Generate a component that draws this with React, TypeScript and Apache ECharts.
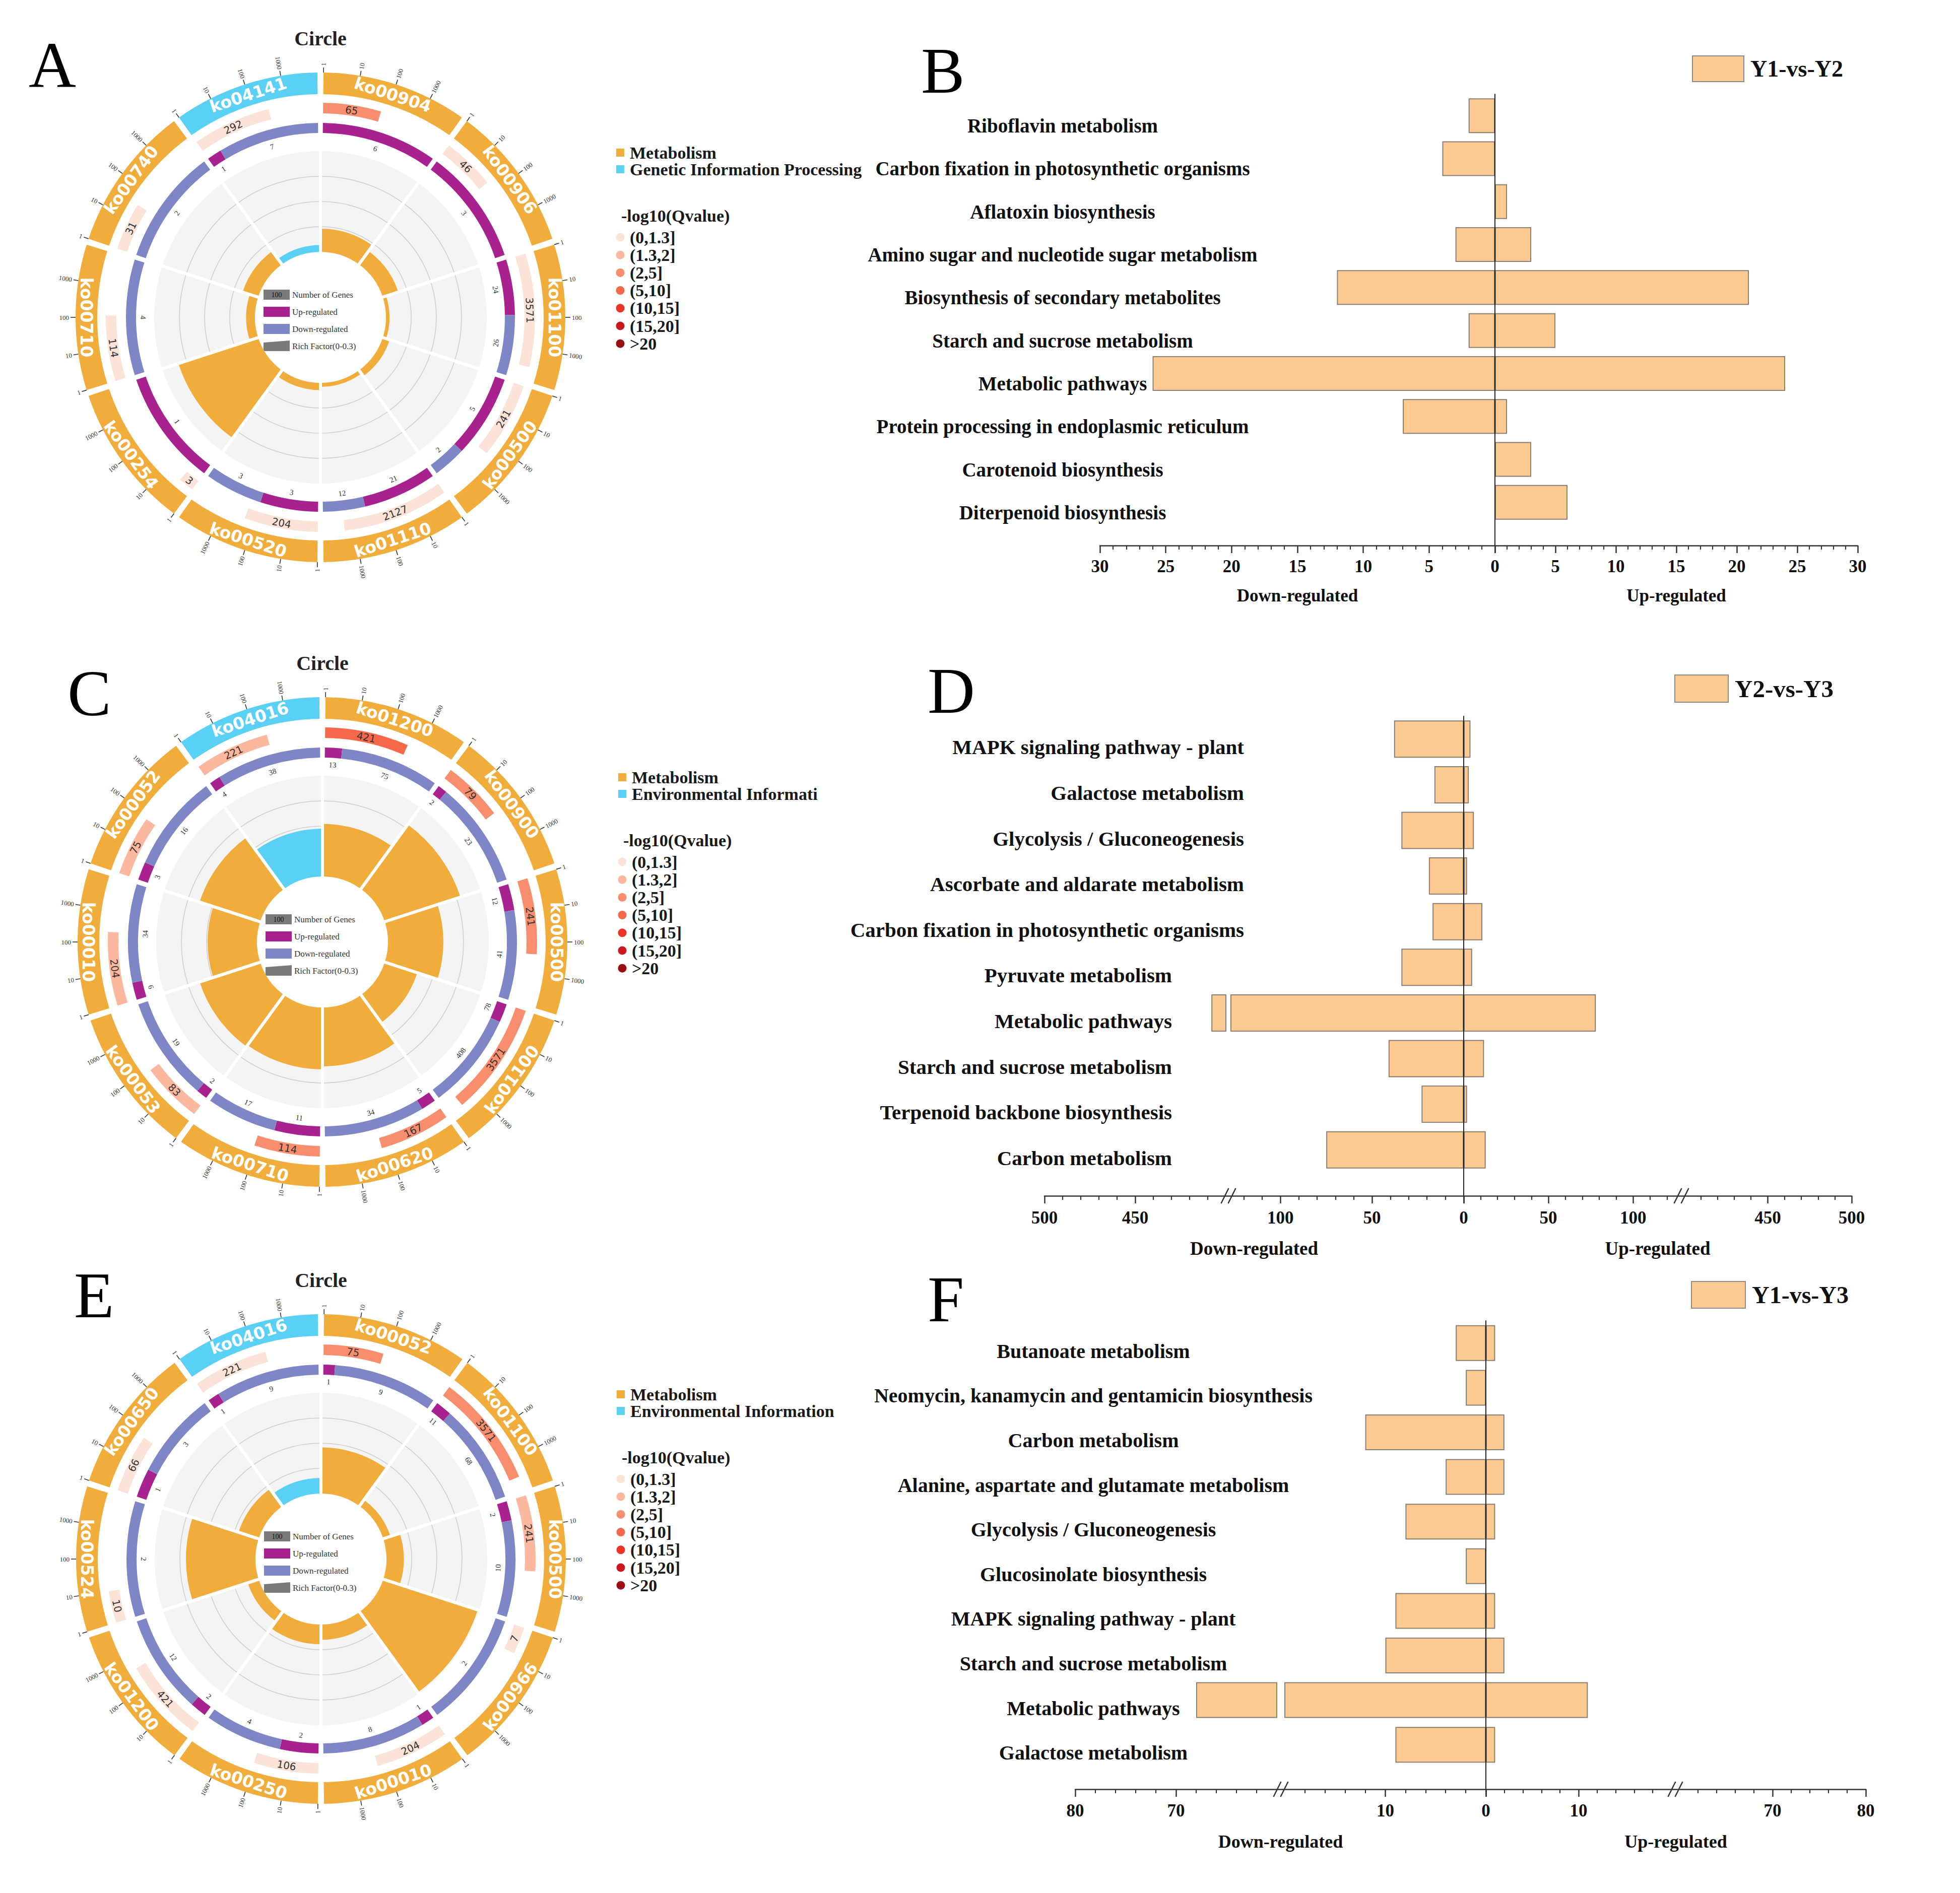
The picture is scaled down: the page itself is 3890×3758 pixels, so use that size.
import React, { useEffect, useRef } from 'react';
import * as echarts from 'echarts';

const PAGE_W = 3890;
const PAGE_H = 3758;
const SERIF = "'Liberation Serif', 'Times New Roman', serif";
const SANS = "'DejaVu Sans', 'Noto Sans', sans-serif";

// ================= DATA: circle plots =================
const A_IDS = ['ko00904', 'ko00906', 'ko01100', 'ko00500', 'ko01110', 'ko00520', 'ko00254', 'ko00710', 'ko00740', 'ko04141'];
const A_CLASS = [0, 0, 0, 0, 0, 0, 0, 0, 0, 1];
const A_GENES = [65, 46, 3571, 241, 2127, 204, 3, 114, 31, 292];
const A_UP = [6, 3, 24, 5, 21, 3, 1, 0, 0, 1];
const A_DOWN = [0, 0, 26, 2, 12, 3, 0, 4, 2, 7];
const A_QLEVEL = [2, 0, 0, 0, 0, 0, 0, 0, 0, 0];
const A_RICH = [0.092, 0.065, 0.014, 0.029, 0.016, 0.029, 0.333, 0.035, 0.065, 0.027];
const A_CLASS_NAMES = ['Metabolism', 'Genetic Information Processing'];

const C_IDS = ['ko01200', 'ko00900', 'ko00500', 'ko01100', 'ko00620', 'ko00710', 'ko00053', 'ko00010', 'ko00052', 'ko04016'];
const C_CLASS = [0, 0, 0, 0, 0, 0, 0, 0, 0, 1];
const C_GENES = [421, 79, 241, 3571, 167, 114, 83, 204, 75, 221];
const C_UP = [13, 2, 12, 78, 5, 11, 2, 6, 3, 4];
const C_DOWN = [75, 23, 41, 408, 34, 17, 19, 34, 16, 38];
const C_QLEVEL = [3, 2, 2, 2, 2, 2, 1, 1, 1, 1];
const C_RICH = [0.209, 0.316, 0.22, 0.136, 0.234, 0.246, 0.253, 0.196, 0.253, 0.19];
const C_CLASS_NAMES = ['Metabolism', 'Environmental Informati'];

const E_IDS = ['ko00052', 'ko01100', 'ko00500', 'ko00966', 'ko00010', 'ko00250', 'ko01200', 'ko00524', 'ko00650', 'ko04016'];
const E_CLASS = [0, 0, 0, 0, 0, 0, 0, 0, 0, 1];
const E_GENES = [75, 3571, 241, 7, 204, 106, 421, 10, 66, 221];
const E_UP = [1, 11, 2, 0, 1, 2, 2, 0, 1, 1];
const E_DOWN = [9, 68, 10, 2, 8, 4, 12, 2, 3, 9];
const E_QLEVEL = [2, 2, 1, 0, 0, 0, 0, 0, 0, 0];
const E_RICH = [0.133, 0.022, 0.05, 0.286, 0.044, 0.057, 0.033, 0.2, 0.061, 0.045];
const E_CLASS_NAMES = ['Metabolism', 'Environmental Information'];

const Q_LABELS = ['(0,1.3]', '(1.3,2]', '(2,5]', '(5,10]', '(10,15]', '(15,20]', '>20'];
const GENE_TICK_LABELS = ['1', '10', '100', '1000'];
const GENE_DECADES = 4;
const CENTER_LEGEND = ['Number of Genes', 'Up-regulated', 'Down-regulated', 'Rich Factor(0-0.3)'];

// ================= DATA: bar charts =================
const B_PATHWAYS = ['Riboflavin metabolism', 'Carbon fixation in photosynthetic organisms', 'Aflatoxin biosynthesis', 'Amino sugar and nucleotide sugar metabolism', 'Biosynthesis of secondary metabolites', 'Starch and sucrose metabolism', 'Metabolic pathways', 'Protein processing in endoplasmic reticulum', 'Carotenoid biosynthesis', 'Diterpenoid biosynthesis'];
const B_DOWN = [2, 4, 0, 3, 12, 2, 26, 7, 0, 0];
const B_UP = [0, 0, 1, 3, 21, 5, 24, 1, 3, 6];

const D_PATHWAYS = ['MAPK signaling pathway - plant', 'Galactose metabolism', 'Glycolysis / Gluconeogenesis', 'Ascorbate and aldarate metabolism', 'Carbon fixation in photosynthetic organisms', 'Pyruvate metabolism', 'Metabolic pathways', 'Starch and sucrose metabolism', 'Terpenoid backbone biosynthesis', 'Carbon metabolism'];
const D_DOWN = [38, 16, 34, 19, 17, 34, 408, 41, 23, 75];
const D_UP = [4, 3, 6, 2, 11, 5, 78, 12, 2, 13];

const F_PATHWAYS = ['Butanoate metabolism', 'Neomycin, kanamycin and gentamicin biosynthesis', 'Carbon metabolism', 'Alanine, aspartate and glutamate metabolism', 'Glycolysis / Gluconeogenesis', 'Glucosinolate biosynthesis', 'MAPK signaling pathway - plant', 'Starch and sucrose metabolism', 'Metabolic pathways', 'Galactose metabolism'];
const F_DOWN = [3, 2, 12, 4, 8, 2, 9, 10, 68, 9];
const F_UP = [1, 0, 2, 2, 1, 0, 1, 2, 11, 1];

// ================= STYLE =================
const CLASS_COLORS = ['#F0AD3B', '#5BD0F5'];
const Q_COLORS = ['#FCE3D8', '#FBB89E', '#F98E6E', '#F5694A', '#EC3426', '#C9181F', '#990E13'];
const UP_COLOR = '#A8228F';
const DOWN_COLOR = '#7E86C6';
const GRAY_BG = '#F4F4F4';
const GRID_LINE = '#CFCFCF';
const BAR_FILL = '#FDCB91';
const BAR_EDGE = '#8A7E70';
const AXIS_COLOR = '#333';

// circle geometry (px)
const R_OUT = 488;
const RING1 = [443, 486];
const RING2 = [405, 426];
const RING3 = [366, 386];
const RING3_LABEL = 352;
const TICK_R = [486, 496];
const TICK_LABEL_R = 499;
const R_IN = 130;
const R_GRAY = 330;
const SEG_PAD = 0.02;

const CIRCLE_LAYOUT = [
  { cx: 636, cy: 630, rfMax: 0.4, letter: 'A', lx: 57, ly: 129 },
  { cx: 640, cy: 1870, rfMax: 0.4, letter: 'C', lx: 134, ly: 1376 },
  { cx: 637, cy: 3095, rfMax: 0.29, letter: 'E', lx: 147, ly: 2571 },
];

const CIRCLES = [
  { ids: A_IDS, cls: A_CLASS, genes: A_GENES, up: A_UP, down: A_DOWN, q: A_QLEVEL, rich: A_RICH, classNames: A_CLASS_NAMES },
  { ids: C_IDS, cls: C_CLASS, genes: C_GENES, up: C_UP, down: C_DOWN, q: C_QLEVEL, rich: C_RICH, classNames: C_CLASS_NAMES },
  { ids: E_IDS, cls: E_CLASS, genes: E_GENES, up: E_UP, down: E_DOWN, q: E_QLEVEL, rich: E_RICH, classNames: E_CLASS_NAMES },
];

const PANELS = [
  {
    series: 'Y1-vs-Y2', cats: B_PATHWAYS, down: B_DOWN, up: B_UP,
    letter: 'B', lx: 1828, ly: 140,
    zero: 2967, top: 187, bottom: 1040, axisY: 1083, barWidth: 69,
    segs: [
      { side: 'down', x0: 2183, x1: 2967, min: 0, max: 30, major: 5, minor: 1, brk: null, hideZero: true, labels: true },
      { side: 'up', x0: 2967, x1: 3687, min: 0, max: 30, major: 5, minor: 1, brk: null, hideZero: false, labels: false },
    ],
    catLabel: { align: 'center', margin: 74, size: 39, shift: 20, split: 99, pad: 0 },
    tick: { size: 35, margin: 24 },
    name: { size: 35, gap: 82 },
    legend: { left: 3358, top: 110, w: 102, h: 51, size: 46 },
    left: 2183, right: 3687,
  },
  {
    series: 'Y2-vs-Y3', cats: D_PATHWAYS, down: D_DOWN, up: D_UP,
    letter: 'D', lx: 1841, ly: 1371,
    zero: 2905, top: 1422, bottom: 2328, axisY: 2374, barWidth: 74,
    segs: [
      { side: 'down', x0: 2073, x1: 2433, min: 400, max: 500, major: 50, minor: 10, brk: 'min', hideZero: true, labels: false },
      { side: 'down', x0: 2443, x1: 2905, min: 0, max: 127, major: 50, minor: 10, brk: 'max', hideZero: true, labels: true },
      { side: 'up', x0: 2905, x1: 3332, min: 0, max: 127, major: 50, minor: 10, brk: 'max', hideZero: false, labels: false },
      { side: 'up', x0: 3342, x1: 3675, min: 400, max: 500, major: 50, minor: 10, brk: 'min', hideZero: false, labels: false },
    ],
    catLabel: { align: 'right', margin: -26, size: 41, shift: 16, split: 5, pad: 143 },
    tick: { size: 35, margin: 26 },
    name: { size: 37, gap: 86 },
    legend: { left: 3323, top: 1339, w: 106, h: 54, size: 49 },
    left: 2073, right: 3675,
  },
  {
    series: 'Y1-vs-Y3', cats: F_PATHWAYS, down: F_DOWN, up: F_UP,
    letter: 'F', lx: 1841, ly: 2579,
    zero: 2949, top: 2622, bottom: 3508, axisY: 3552, barWidth: 71,
    segs: [
      { side: 'down', x0: 2134, x1: 2534, min: 60, max: 80, major: 10, minor: 2, brk: 'min', hideZero: true, labels: false },
      { side: 'down', x0: 2550, x1: 2949, min: 0, max: 20, major: 10, minor: 2, brk: 'max', hideZero: true, labels: true },
      { side: 'up', x0: 2949, x1: 3317, min: 0, max: 20, major: 10, minor: 2, brk: 'max', hideZero: false, labels: false },
      { side: 'up', x0: 3333, x1: 3703, min: 60, max: 80, major: 10, minor: 2, brk: 'min', hideZero: false, labels: false },
    ],
    catLabel: { align: 'center', margin: 380, size: 40, shift: 16, split: 99, pad: 0 },
    tick: { size: 35, margin: 25 },
    name: { size: 36, gap: 86 },
    legend: { left: 3356, top: 2543, w: 107, h: 53, size: 48 },
    left: 2134, right: 3703,
  },
];

// ================= helpers =================
function multiples(min: number, max: number, step: number) {
  const out: number[] = [];
  const start = Math.ceil(min / step - 1e-9) * step;
  for (let v = start; v <= max + 1e-9; v += step) out.push(Math.round(v * 1e6) / 1e6);
  return out;
}
function near(a: number, b: number) { return Math.abs(a - b) < 1e-9; }

function textStyle(text: string, size: number, family: string, weight: string, fill: string, align: string) {
  return {
    text, fontSize: size, fontFamily: family, fontWeight: weight, fill,
    align, verticalAlign: 'middle', textAlign: align, textVerticalAlign: 'middle',
  };
}
function textEl(x: number, y: number, rot: number, text: string, size: number, family: string, weight: string, fill: string, align = 'center') {
  return { type: 'text', x, y, rotation: rot, silent: true, style: textStyle(text, size, family, weight, fill, align) };
}
function sectorEl(cx: number, cy: number, r0: number, r: number, t0: number, t1: number, fill: string) {
  return { type: 'sector', silent: true, shape: { cx, cy, r0, r, startAngle: t0, endAngle: t1, clockwise: true }, style: { fill } };
}
function normAngle(t: number) {
  let tt = Math.atan2(Math.sin(t), Math.cos(t));
  if (tt < -Math.PI + 1e-6) tt = Math.PI;
  return tt;
}
function tangentialRot(t: number) {
  const tt = normAngle(t);
  return tt > 1e-6 ? -tt + Math.PI / 2 : -tt - Math.PI / 2;
}
function radialRot(t: number) {
  return Math.cos(t) >= -1e-6 ? { rot: -t, align: 'left' } : { rot: -t + Math.PI, align: 'right' };
}

function makeTools(params: any, api: any, L: any, rRef: number) {
  const cs = params.coordSys || {};
  const cx = cs.cx != null ? cs.cx : L.cx;
  const cy = cs.cy != null ? cs.cy : L.cy;
  const P = (r: number, a: number) => api.coord([r, a]);
  const th = (a: number) => { const p = P(rRef, a); return Math.atan2(p[1] - cy, p[0] - cx); };
  const span = (a0: number, a1: number) => {
    const t0 = th(a0);
    let t1 = th(a1);
    while (t1 <= t0 + 1e-9) t1 += Math.PI * 2;
    return [t0, t1];
  };
  return { cx, cy, P, th, span };
}

function outerRenderer(c: any, L: any) {
  return (params: any, api: any) => {
    const i = params.dataIndex;
    const { cx, cy, P, th, span } = makeTools(params, api, L, R_OUT);
    const ch: any[] = [];
    const s0 = i + SEG_PAD;
    const s1 = i + 1 - SEG_PAD;
    const len = s1 - s0;

    const [t0, t1] = span(s0, s1);
    ch.push(sectorEl(cx, cy, RING1[0], RING1[1], t0, t1, CLASS_COLORS[c.cls[i]]));
    const pm = P((RING1[0] + RING1[1]) / 2, i + 0.5);
    ch.push(textEl(pm[0], pm[1], tangentialRot(th(i + 0.5)), c.ids[i], 33, SANS, 'bold', '#ffffff'));

    GENE_TICK_LABELS.forEach((lab, k) => {
      const a = s0 + (len * k) / GENE_DECADES;
      const p1 = P(TICK_R[0], a);
      const p2 = P(TICK_R[1], a);
      const p3 = P(TICK_LABEL_R, a);
      ch.push({ type: 'line', silent: true, shape: { x1: p1[0], y1: p1[1], x2: p2[0], y2: p2[1] }, style: { stroke: '#333', lineWidth: 1.6 } });
      const rr = radialRot(th(a));
      ch.push(textEl(p3[0], p3[1], rr.rot, lab, 13, SERIF, 'normal', '#333', rr.align));
    });

    const g = c.genes[i];
    const f2 = Math.log10(g) / GENE_DECADES;
    if (f2 > 1e-4) {
      const [u0, u1] = span(s0, s0 + len * f2);
      ch.push(sectorEl(cx, cy, RING2[0], RING2[1], u0, u1, Q_COLORS[c.q[i]]));
    }
    const am = s0 + (len * f2) / 2;
    const p2m = P((RING2[0] + RING2[1]) / 2, am);
    ch.push(textEl(p2m[0], p2m[1], tangentialRot(th(am)), String(g), 20, SANS, 'normal', '#333'));

    const up = c.up[i];
    const down = c.down[i];
    const tot = up + down;
    const fu = tot > 0 ? up / tot : 0;
    const aSplit = s0 + len * fu;
    if (up > 0) {
      const [v0, v1] = span(s0, aSplit);
      ch.push(sectorEl(cx, cy, RING3[0], RING3[1], v0, v1, UP_COLOR));
      const a = (s0 + aSplit) / 2;
      const p = P(RING3_LABEL, a);
      ch.push(textEl(p[0], p[1], tangentialRot(th(a)), String(up), 15, SERIF, 'normal', '#333'));
    }
    if (down > 0) {
      const [v0, v1] = span(aSplit, s1);
      ch.push(sectorEl(cx, cy, RING3[0], RING3[1], v0, v1, DOWN_COLOR));
      const a = (aSplit + s1) / 2;
      const p = P(RING3_LABEL, a);
      ch.push(textEl(p[0], p[1], tangentialRot(th(a)), String(down), 15, SERIF, 'normal', '#333'));
    }
    return { type: 'group', children: ch };
  };
}

function innerRenderer(c: any, L: any) {
  return (params: any, api: any) => {
    const i = params.dataIndex;
    const { cx, cy, P, th, span } = makeTools(params, api, L, L.rfMax);
    const dist = (p: number[]) => Math.hypot(p[0] - cx, p[1] - cy);
    const rOf = (v: number) => dist(P(v, i + 0.5));
    const r0 = rOf(0);
    const r1 = rOf(L.rfMax);
    const ch: any[] = [];
    const [t0, t1] = span(i, i + 1);
    ch.push(sectorEl(cx, cy, r0, r1, t0, t1, GRAY_BG));
    for (let k = 1; k <= 3; k++) {
      const r = rOf((L.rfMax * k) / 4);
      ch.push({ type: 'arc', silent: true, shape: { cx, cy, r, startAngle: t0, endAngle: t1, clockwise: true }, style: { stroke: GRID_LINE, lineWidth: 1.6, fill: 'none' } });
    }
    const rb = rOf(c.rich[i]);
    ch.push(sectorEl(cx, cy, r0, rb, t0, t1, CLASS_COLORS[c.cls[i]]));
    [i, i + 1].forEach((a) => {
      const t = th(a);
      ch.push({
        type: 'line', silent: true,
        shape: { x1: cx + (r0 - 3) * Math.cos(t), y1: cy + (r0 - 3) * Math.sin(t), x2: cx + (r1 + 3) * Math.cos(t), y2: cy + (r1 + 3) * Math.sin(t) },
        style: { stroke: '#ffffff', lineWidth: 6 },
      });
    });
    return { type: 'group', children: ch };
  };
}

function gText(x: number, y: number, text: string, size: number, weight = 'normal', fill = '#111', align = 'left', family = SERIF) {
  return { type: 'text', x, y, silent: true, style: textStyle(text, size, family, weight, fill, align) };
}

function buildOption() {
  const polar: any[] = [];
  const angleAxis: any[] = [];
  const radiusAxis: any[] = [];
  const series: any[] = [];
  const grid: any[] = [];
  const xAxis: any[] = [];
  const yAxis: any[] = [];
  const legend: any[] = [];
  const elements: any[] = [];

  // ---------- circles ----------
  CIRCLES.forEach((c, k) => {
    const L = CIRCLE_LAYOUT[k];
    const n = c.ids.length;
    const pInner = polar.length;
    polar.push({ center: [L.cx, L.cy], radius: [R_IN, R_GRAY] });
    angleAxis.push({ polarIndex: pInner, type: 'value', min: 0, max: n, startAngle: 90, clockwise: true, show: false });
    radiusAxis.push({ polarIndex: pInner, type: 'value', min: 0, max: L.rfMax, show: false });
    const pOuter = polar.length;
    polar.push({ center: [L.cx, L.cy], radius: [0, R_OUT] });
    angleAxis.push({ polarIndex: pOuter, type: 'value', min: 0, max: n, startAngle: 90, clockwise: true, show: false });
    radiusAxis.push({ polarIndex: pOuter, type: 'value', min: 0, max: R_OUT, show: false });

    series.push({ type: 'custom', coordinateSystem: 'polar', polarIndex: pInner, silent: true, z: 2, data: c.ids.map((_, i) => [0, i]), renderItem: innerRenderer(c, L) });
    series.push({ type: 'custom', coordinateSystem: 'polar', polarIndex: pOuter, silent: true, z: 3, data: c.ids.map((_, i) => [0, i]), renderItem: outerRenderer(c, L) });

    elements.push(gText(L.cx, L.cy - 554, 'Circle', 40, 'bold', '#222', 'center'));
    elements.push(gText(L.lx, L.ly, L.letter, 130, 'normal', '#000', 'left'));

    const rowY = [-45, -11, 23, 57];
    const x0 = L.cx - 113;
    const x1 = L.cx - 61;
    elements.push({ type: 'rect', silent: true, shape: { x: x0, y: L.cy + rowY[0] - 10, width: x1 - x0, height: 20 }, style: { fill: '#7A7A7A' } });
    elements.push(gText((x0 + x1) / 2, L.cy + rowY[0], '100', 14, 'normal', '#111', 'center'));
    elements.push({ type: 'rect', silent: true, shape: { x: x0, y: L.cy + rowY[1] - 10, width: x1 - x0, height: 20 }, style: { fill: UP_COLOR } });
    elements.push({ type: 'rect', silent: true, shape: { x: x0, y: L.cy + rowY[2] - 10, width: x1 - x0, height: 20 }, style: { fill: DOWN_COLOR } });
    elements.push({ type: 'polygon', silent: true, shape: { points: [[x0, L.cy + rowY[3] - 7], [x1, L.cy + rowY[3] - 11], [x1, L.cy + rowY[3] + 10], [x0, L.cy + rowY[3] + 10]] }, style: { fill: '#7A7A7A' } });
    CENTER_LEGEND.forEach((t, r) => elements.push(gText(L.cx - 56, L.cy + rowY[r], t, 17, 'normal', '#333', 'left')));

    c.classNames.forEach((name, r) => {
      const y = L.cy - 327 + r * 33;
      elements.push({ type: 'rect', silent: true, shape: { x: L.cx + 587, y: y - 8, width: 16, height: 16 }, style: { fill: CLASS_COLORS[r] } });
      elements.push(gText(L.cx + 614, y, name, 34, 'bold', '#1a1a1a', 'left'));
    });
    elements.push(gText(L.cx + 597, L.cy - 202, '-log10(Qvalue)', 34, 'bold', '#1a1a1a', 'left'));
    Q_LABELS.forEach((lab, r) => {
      const y = L.cy - 159 + r * 35.2;
      elements.push({ type: 'circle', silent: true, shape: { cx: L.cx + 595, cy: y, r: 8.5 }, style: { fill: Q_COLORS[r] } });
      elements.push(gText(L.cx + 614, y, lab, 34, 'bold', '#1a1a1a', 'left'));
    });
  });

  // ---------- bar panels ----------
  PANELS.forEach((p) => {
    elements.push(gText(p.lx, p.ly, p.letter, 130, 'normal', '#000', 'left'));
    const offset = p.axisY - p.bottom;
    const cl = p.catLabel;
    const tokenBase = { fontSize: cl.size, fontWeight: 'bold', fontFamily: SERIF, color: '#111', lineHeight: cl.shift * 2 };

    p.segs.forEach((s) => {
      const gi = grid.length;
      grid.push({ left: s.x0, width: s.x1 - s.x0, top: p.top, height: p.bottom - p.top, containLabel: false });
      const excl: number[] = [];
      if (s.brk === 'min') excl.push(s.min);
      if (s.brk === 'max') excl.push(s.max);
      const majors = multiples(s.min, s.max, s.major).filter((v) => !excl.some((e) => near(e, v)));
      const minors = multiples(s.min, s.max, s.minor).filter((v) => !majors.some((m) => near(m, v)) && !excl.some((e) => near(e, v)));
      const labels = majors.filter((v) => !(s.hideZero && near(v, 0)));
      const inverse = s.side === 'down';
      const xi = xAxis.length;
      xAxis.push({
        gridIndex: gi, type: 'value', min: s.min, max: s.max, inverse, position: 'bottom', offset,
        axisLine: { show: false }, splitLine: { show: false },
        axisTick: { show: true, customValues: majors, length: 15, lineStyle: { color: AXIS_COLOR, width: 2.5 } },
        axisLabel: { show: true, customValues: labels, margin: p.tick.margin, fontSize: p.tick.size, fontWeight: 'bold', fontFamily: SERIF, color: '#111' },
      });
      xAxis.push({
        gridIndex: gi, type: 'value', min: s.min, max: s.max, inverse, position: 'bottom', offset,
        axisLine: { show: false }, splitLine: { show: false },
        axisTick: { show: true, customValues: minors, length: 8, lineStyle: { color: AXIS_COLOR, width: 2.2 } },
        axisLabel: { show: false },
      });
      const yi = yAxis.length;
      yAxis.push({
        gridIndex: gi, type: 'category', data: p.cats, inverse: true,
        axisLine: { show: false }, axisTick: { show: false }, splitLine: { show: false },
        axisLabel: s.labels
          ? {
              show: true, interval: 0, align: cl.align, verticalAlign: 'top', margin: cl.margin,
              fontSize: cl.size, fontWeight: 'bold', fontFamily: SERIF, color: '#111', lineHeight: cl.shift * 2,
              formatter: (v: string, idx: number) => (idx < cl.split ? `{a|${v}}` : `{b|${v}}`),
              rich: {
                a: { ...tokenBase },
                b: { ...tokenBase, padding: [0, cl.pad, 0, 0] },
              },
            }
          : { show: false },
      });
      const vals = s.side === 'down' ? p.down : p.up;
      series.push({
        type: 'bar', name: p.series, xAxisIndex: xi, yAxisIndex: yi, silent: true, barWidth: p.barWidth,
        data: vals.map((v) => (v > 0 && v > s.min ? v : '-')),
        itemStyle: { color: BAR_FILL, borderColor: BAR_EDGE, borderWidth: 2 },
      });
    });

    const gl = grid.length;
    grid.push({ left: p.left, width: p.zero - p.left, top: p.top, height: p.axisY - p.top, containLabel: false });
    xAxis.push({
      gridIndex: gl, type: 'value', min: 0, max: 1, position: 'bottom',
      axisLine: { show: true, lineStyle: { color: AXIS_COLOR, width: 2.6 } }, axisTick: { show: false }, axisLabel: { show: false }, splitLine: { show: false },
      name: 'Down-regulated', nameLocation: 'middle', nameGap: p.name.gap,
      nameTextStyle: { fontSize: p.name.size, fontWeight: 'bold', fontFamily: SERIF, color: '#111' },
    });
    yAxis.push({ gridIndex: gl, type: 'value', min: 0, max: 1, show: false });
    const gr = grid.length;
    grid.push({ left: p.zero, width: p.right - p.zero, top: p.top, height: p.axisY - p.top, containLabel: false });
    xAxis.push({
      gridIndex: gr, type: 'value', min: 0, max: 1, position: 'bottom',
      axisLine: { show: true, lineStyle: { color: AXIS_COLOR, width: 2.6 } }, axisTick: { show: false }, axisLabel: { show: false }, splitLine: { show: false },
      name: 'Up-regulated', nameLocation: 'middle', nameGap: p.name.gap,
      nameTextStyle: { fontSize: p.name.size, fontWeight: 'bold', fontFamily: SERIF, color: '#111' },
    });
    yAxis.push({
      gridIndex: gr, type: 'value', min: 0, max: 1, position: 'left', z: 10,
      axisLine: { show: true, lineStyle: { color: '#222', width: 2 } }, axisTick: { show: false }, axisLabel: { show: false }, splitLine: { show: false },
    });

    for (let j = 0; j + 1 < p.segs.length; j++) {
      const a = p.segs[j];
      const b = p.segs[j + 1];
      if (a.x1 === b.x0) continue;
      const xm = (a.x1 + b.x0) / 2;
      [-7, 7].forEach((dx) => {
        elements.push({ type: 'line', silent: true, z: 50, shape: { x1: xm + dx - 7.5, y1: p.axisY + 15, x2: xm + dx + 7.5, y2: p.axisY - 15 }, style: { stroke: '#333', lineWidth: 2.5 } });
      });
    }

    legend.push({
      data: [p.series], left: p.legend.left, top: p.legend.top, itemWidth: p.legend.w, itemHeight: p.legend.h,
      icon: 'rect', selectedMode: false, padding: 0,
      itemStyle: { color: BAR_FILL, borderColor: '#8a8a8a', borderWidth: 2 },
      textStyle: { fontSize: p.legend.size, fontWeight: 'bold', fontFamily: SERIF, color: '#111', padding: [0, 0, 0, 8] },
    });
  });

  return {
    animation: false,
    backgroundColor: '#ffffff',
    textStyle: { fontFamily: SERIF },
    polar, angleAxis, radiusAxis, grid, xAxis, yAxis, legend, series,
    graphic: { elements },
  };
}

export default function App() {
  const ref = useRef<HTMLDivElement>(null);
  useEffect(() => {
    if (!ref.current) return;
    const chart = echarts.init(ref.current, undefined, { renderer: 'svg', width: PAGE_W, height: PAGE_H });
    chart.setOption(buildOption() as any);
    return () => chart.dispose();
  }, []);
  return <div ref={ref} style={{ position: 'absolute', left: 0, top: 0, width: PAGE_W, height: PAGE_H, background: '#fff' }} />;
}
